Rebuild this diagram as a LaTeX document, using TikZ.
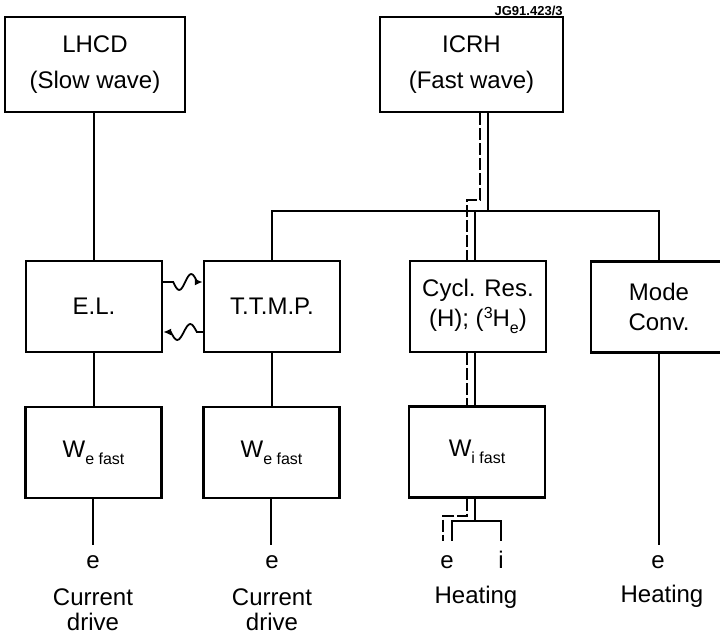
\documentclass[tikz,border=0pt]{standalone}
\usepackage{fontspec}
\setmainfont{Liberation Sans}
\usetikzlibrary{arrows.meta,positioning}

\newcommand{\subx}[1]{\raisebox{-3.5pt}{\fontsize{8}{9}\selectfont #1}}
\newcommand{\supx}[1]{\raisebox{4pt}{\fontsize{8}{9}\selectfont #1}}

\begin{document}
\begin{tikzpicture}[
  x=0.5pt,y=-0.5pt,
  font=\fontsize{12}{15}\selectfont,
  srcbox/.style={draw, line width=1.2pt, minimum width=90pt, minimum height=47.5pt, align=center, font=\fontsize{12}{18}\selectfont},
  procbox/.style={draw, line width=1.2pt, minimum width=68pt, minimum height=45.5pt, align=center, inner sep=2pt},
  wire/.style={line width=1pt},
  beam/.style={line width=1pt, dash pattern=on 6pt off 1.5pt},
  wave/.style={line width=0.9pt, -{Latex[length=4pt,width=3.5pt]}},
  endlabel/.style={inner sep=5pt, anchor=north},
  note/.style={align=center, inner sep=0pt, anchor=north, font=\fontsize{12}{12.5}\selectfont},
  fignum/.style={inner sep=0pt, anchor=south east, font=\fontsize{6.5}{7}\selectfont\bfseries}
]

% Canvas: 720 x 637 pixel grid, y pointing down
\useasboundingbox (0,0) rectangle (720,637);
\clip (0,0) rectangle (720,637);

% Sources
\node[srcbox] (lhcd) at (95,64.5) {LHCD\\(Slow wave)};
\node[srcbox, minimum width=91.5pt] (icrh) at (471.5,64.5) {ICRH\\(Fast wave)};
\node[fignum] (jg) at (563,16) {JG91.423/3};

% Absorption mechanisms
\node[procbox] (el) at (94,306.5) {E.L.};
\node[procbox] (ttmp) at (272,306.5) {T.T.M.P.};
\node[procbox] (cyc) at (478,306.5) {Cycl. Res.\\(H); (\supx{3}H\subx{e})};
\node[procbox] (mode) at (659,307) {Mode\\Conv.};

% Fast particle populations
\node[procbox] (we1) at (93.5,452.5) {W\subx{e fast}};
\node[procbox] (we2) at (271.5,452.5) {W\subx{e fast}};
\node[procbox] (wi) at (477,452) {W\subx{i fast}};

% End results
\node[endlabel] (e1) at (93,545) {e};
\node[note, below=4.5pt of e1] (cd1) {Current\\drive};
\node[endlabel] (e2) at (272,545) {e};
\node[note, below=4.5pt of e2] (cd2) {Current\\drive};
\node[endlabel] (e3) at (447,545) {e};
\node[endlabel] (i3) at (501,541) {i};
\node[note] (heat3) at (476,586) {Heating};
\node[endlabel] (e4) at (658,545) {e};
\node[note] (heat4) at (662,585) {Heating};

% LHCD branch
\draw[wire] (el.north |- lhcd.south) -- (el.north);
\draw[wire] (el.south) -- (el.south |- we1.north);
\draw[wire] (we1.south) -- (we1.south |- e1.north);

% ICRH branch
\coordinate (split) at (488,211);
\coordinate (ionx) at (475,211);
\coordinate (elx) at (467,200);
\draw[wire] (icrh.south -| split) -- (split);
\draw[wire] (ttmp.north) -- (ttmp.north |- split) -- (mode.north |- split) -- (mode.north);
\draw[wire] (ttmp.south) -- (ttmp.south |- we2.north);
\draw[wire] (we2.south) -- (we2.south |- e2.north);
\draw[wire] (ionx) -- (ionx |- cyc.north);
\draw[wire] (ionx |- cyc.south) -- (ionx |- wi.north);
\draw[wire] (mode.south) -- (mode.south |- e4.north);

% ion / electron split below W_i fast
\coordinate (fork) at (475,521);
\coordinate (etip) at (452,541);
\draw[wire] (ionx |- wi.south) -- (fork);
\draw[wire] (etip) |- (fork) -| (i3.north);

% dashed electron path
\coordinate (bend) at (480,200);
\coordinate (ejog) at (467,516);
\coordinate (eend) at (443,541);
\draw[beam] (icrh.south -| bend) -- (bend) -- (elx) -- (elx |- cyc.north);
\draw[beam] (elx |- cyc.south) -- (elx |- wi.north);
\draw[beam] (elx |- wi.south) -- (ejog) -| (eend);

% coupling between E.L. and T.T.M.P.
\draw[wave] ([yshift=12.25pt]el.east) -- ++(10,0) sin ++(6,8) cos ++(6,-8) sin ++(6,-8) cos ++(6,8)
  -- ([yshift=12.25pt]ttmp.west);
\draw[wave] ([yshift=-12.75pt]ttmp.west) -- ++(-6,0) sin ++(-6.5,-8) cos ++(-6.5,8) sin ++(-6.5,8) cos ++(-6.5,-8)
  -- ([yshift=-12.75pt]el.east);

\end{tikzpicture}
\end{document}
